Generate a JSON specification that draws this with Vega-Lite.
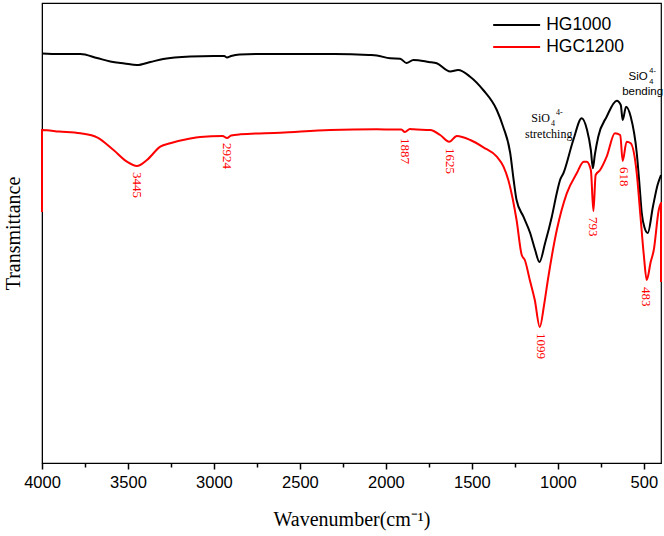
{
  "$schema": "https://vega.github.io/schema/vega-lite/v6.json",
  "width": 619,
  "height": 460,
  "autosize": "none",
  "padding": {"left": 42, "top": 3, "right": 3, "bottom": 73},
  "background": "white",
  "config": {
    "view": {"stroke": "#000", "strokeWidth": 1.2},
    "axis": {"domainColor": "#000", "tickColor": "#000", "labelColor": "#000", "titleColor": "#000", "grid": false}
  },
  "layer": [
    {
      "data": {"values": [
        {"s":"HG1000","i":0,"w":4000,"t":409.5},{"s":"HG1000","i":1,"w":3900,"t":409},{"s":"HG1000","i":2,"w":3777,"t":409},{"s":"HG1000","i":3,"w":3680,"t":405},{"s":"HG1000","i":4,"w":3603,"t":401.5},{"s":"HG1000","i":5,"w":3520,"t":399.5},{"s":"HG1000","i":6,"w":3448,"t":398},{"s":"HG1000","i":7,"w":3370,"t":401},{"s":"HG1000","i":8,"w":3295,"t":404},{"s":"HG1000","i":9,"w":3138,"t":406.5},{"s":"HG1000","i":10,"w":3000,"t":407},{"s":"HG1000","i":11,"w":2940,"t":407},{"s":"HG1000","i":12,"w":2924,"t":405.5},{"s":"HG1000","i":13,"w":2900,"t":407},{"s":"HG1000","i":14,"w":2850,"t":408.5},{"s":"HG1000","i":15,"w":2700,"t":409},{"s":"HG1000","i":16,"w":2500,"t":409},{"s":"HG1000","i":17,"w":2300,"t":409},{"s":"HG1000","i":18,"w":2100,"t":408},{"s":"HG1000","i":19,"w":2053,"t":407.5},{"s":"HG1000","i":20,"w":1975,"t":404.7},{"s":"HG1000","i":21,"w":1917,"t":404.3},{"s":"HG1000","i":22,"w":1880,"t":400},{"s":"HG1000","i":23,"w":1840,"t":403},{"s":"HG1000","i":24,"w":1750,"t":401},{"s":"HG1000","i":25,"w":1704,"t":399.7},{"s":"HG1000","i":26,"w":1626,"t":391.5},{"s":"HG1000","i":27,"w":1580,"t":393},{"s":"HG1000","i":28,"w":1510,"t":386.3},{"s":"HG1000","i":29,"w":1434,"t":373},{"s":"HG1000","i":30,"w":1355,"t":353},{"s":"HG1000","i":31,"w":1318,"t":336.3},{"s":"HG1000","i":32,"w":1277,"t":310},{"s":"HG1000","i":33,"w":1257,"t":283},{"s":"HG1000","i":34,"w":1240,"t":263},{"s":"HG1000","i":35,"w":1200,"t":246.3},{"s":"HG1000","i":36,"w":1161,"t":230},{"s":"HG1000","i":37,"w":1132,"t":213},{"s":"HG1000","i":38,"w":1107,"t":201},{"s":"HG1000","i":39,"w":1074,"t":220},{"s":"HG1000","i":40,"w":1035,"t":246.3},{"s":"HG1000","i":41,"w":1006,"t":270},{"s":"HG1000","i":42,"w":987,"t":283},{"s":"HG1000","i":43,"w":967,"t":290},{"s":"HG1000","i":44,"w":910,"t":323},{"s":"HG1000","i":45,"w":861,"t":344.7},{"s":"HG1000","i":46,"w":830,"t":333},{"s":"HG1000","i":47,"w":808,"t":313},{"s":"HG1000","i":48,"w":796,"t":294.7},{"s":"HG1000","i":49,"w":785,"t":308},{"s":"HG1000","i":50,"w":765,"t":326.3},{"s":"HG1000","i":51,"w":716,"t":346.3},{"s":"HG1000","i":52,"w":657,"t":362.3},{"s":"HG1000","i":53,"w":634,"t":358},{"s":"HG1000","i":54,"w":623,"t":343},{"s":"HG1000","i":55,"w":603,"t":356.3},{"s":"HG1000","i":56,"w":576,"t":346.3},{"s":"HG1000","i":57,"w":541,"t":310},{"s":"HG1000","i":58,"w":525,"t":278},{"s":"HG1000","i":59,"w":512,"t":250},{"s":"HG1000","i":60,"w":495,"t":235},{"s":"HG1000","i":61,"w":477,"t":230},{"s":"HG1000","i":62,"w":447,"t":256.3},{"s":"HG1000","i":63,"w":420,"t":278},{"s":"HG1000","i":64,"w":400,"t":288},
        {"s":"HGC1200","i":0,"w":4000,"t":251},{"s":"HGC1200","i":1,"w":4000,"t":333},{"s":"HGC1200","i":2,"w":3900,"t":331.5},{"s":"HGC1200","i":3,"w":3777,"t":329.7},{"s":"HGC1200","i":4,"w":3680,"t":325.7},{"s":"HGC1200","i":5,"w":3584,"t":313},{"s":"HGC1200","i":6,"w":3506,"t":301.3},{"s":"HGC1200","i":7,"w":3448,"t":297},{"s":"HGC1200","i":8,"w":3390,"t":303},{"s":"HGC1200","i":9,"w":3312,"t":316.3},{"s":"HGC1200","i":10,"w":3254,"t":319.7},{"s":"HGC1200","i":11,"w":3138,"t":324.5},{"s":"HGC1200","i":12,"w":3080,"t":326},{"s":"HGC1200","i":13,"w":2950,"t":327},{"s":"HGC1200","i":14,"w":2924,"t":325},{"s":"HGC1200","i":15,"w":2900,"t":327.5},{"s":"HGC1200","i":16,"w":2847,"t":328.7},{"s":"HGC1200","i":17,"w":2614,"t":330.3},{"s":"HGC1200","i":18,"w":2324,"t":333},{"s":"HGC1200","i":19,"w":2053,"t":333.7},{"s":"HGC1200","i":20,"w":1950,"t":333.5},{"s":"HGC1200","i":21,"w":1910,"t":333.5},{"s":"HGC1200","i":22,"w":1890,"t":331},{"s":"HGC1200","i":23,"w":1860,"t":334},{"s":"HGC1200","i":24,"w":1840,"t":333.7},{"s":"HGC1200","i":25,"w":1742,"t":333},{"s":"HGC1200","i":26,"w":1684,"t":328},{"s":"HGC1200","i":27,"w":1632,"t":321.3},{"s":"HGC1200","i":28,"w":1587,"t":327},{"s":"HGC1200","i":29,"w":1509,"t":323},{"s":"HGC1200","i":30,"w":1433,"t":315.7},{"s":"HGC1200","i":31,"w":1355,"t":306.3},{"s":"HGC1200","i":32,"w":1316,"t":296.3},{"s":"HGC1200","i":33,"w":1288,"t":283},{"s":"HGC1200","i":34,"w":1240,"t":243},{"s":"HGC1200","i":35,"w":1210,"t":208},{"s":"HGC1200","i":36,"w":1192,"t":203},{"s":"HGC1200","i":37,"w":1163,"t":183},{"s":"HGC1200","i":38,"w":1134,"t":163},{"s":"HGC1200","i":39,"w":1105,"t":136},{"s":"HGC1200","i":40,"w":1080,"t":158},{"s":"HGC1200","i":41,"w":1058,"t":183},{"s":"HGC1200","i":42,"w":1006,"t":233},{"s":"HGC1200","i":43,"w":948,"t":269.7},{"s":"HGC1200","i":44,"w":890,"t":289.7},{"s":"HGC1200","i":45,"w":850,"t":301.3},{"s":"HGC1200","i":46,"w":832,"t":301.3},{"s":"HGC1200","i":47,"w":808,"t":293},{"s":"HGC1200","i":48,"w":793,"t":252},{"s":"HGC1200","i":49,"w":780,"t":288},{"s":"HGC1200","i":50,"w":754,"t":293},{"s":"HGC1200","i":51,"w":716,"t":306.3},{"s":"HGC1200","i":52,"w":668,"t":329.7},{"s":"HGC1200","i":53,"w":637,"t":328},{"s":"HGC1200","i":54,"w":623,"t":302},{"s":"HGC1200","i":55,"w":600,"t":321.3},{"s":"HGC1200","i":56,"w":576,"t":319.7},{"s":"HGC1200","i":57,"w":541,"t":289.7},{"s":"HGC1200","i":58,"w":520,"t":248},{"s":"HGC1200","i":59,"w":500,"t":208},{"s":"HGC1200","i":60,"w":483,"t":183},{"s":"HGC1200","i":61,"w":460,"t":201},{"s":"HGC1200","i":62,"w":442,"t":213},{"s":"HGC1200","i":63,"w":413,"t":253},{"s":"HGC1200","i":64,"w":400,"t":260},{"s":"HGC1200","i":65,"w":400,"t":181}
      ]},
      "mark": {"type": "line", "strokeWidth": 2, "interpolate": "monotone"},
      "encoding": {
        "x": {"field": "w", "type": "quantitative",
              "scale": {"domain": [400, 4000], "reverse": true, "nice": false, "zero": false},
              "axis": {"values": [4000,3750,3500,3250,3000,2750,2500,2250,2000,1750,1500,1250,1000,750,500],
                       "format": "d",
                       "labelExpr": "datum.value % 500 === 0 ? datum.label : ''",
                       "tickSize": {"condition": {"test": "datum.value % 500 === 0", "value": 6}, "value": 4},
                       "tickWidth": 1.5,
                       "labelFont": "Liberation Sans", "labelFontSize": 16.5, "labelPadding": 5,
                       "title": "Wavenumber(cm⁻¹)", "titleFont": "Liberation Serif", "titleFontSize": 20,
                       "titleFontWeight": "normal", "titlePadding": 19, "labelFlush": false}},
        "y": {"field": "t", "type": "quantitative",
              "scale": {"domain": [0, 460], "nice": false, "zero": false},
              "axis": {"labels": false, "ticks": false, "title": "Transmittance",
                       "titleFont": "Liberation Serif", "titleFontSize": 20, "titleFontWeight": "normal",
                       "titlePadding": 19}},
        "color": {"field": "s", "type": "nominal",
                  "scale": {"domain": ["HG1000", "HGC1200"], "range": ["#000000", "#ff0000"]}, "legend": null},
        "order": {"field": "i", "type": "quantitative"}
      }
    },
    {
      "data": {"values": [
        {"lab":"3445","w":3445,"t":291},{"lab":"2924","w":2924,"t":320},{"lab":"1887","w":1887,"t":325},
        {"lab":"1625","w":1625,"t":315},{"lab":"1099","w":1099,"t":130},{"lab":"793","w":793,"t":246},
        {"lab":"618","w":618,"t":296},{"lab":"483","w":487,"t":176}
      ]},
      "mark": {"type": "text", "angle": 90, "align": "left", "baseline": "middle", "font": "Liberation Serif", "fontSize": 13, "color": "#ff0000"},
      "encoding": {"x": {"field": "w", "type": "quantitative"}, "y": {"field": "t", "type": "quantitative"}, "text": {"field": "lab"}}
    },
    {
      "data": {"values": [{"lab":"SiO","w":1100,"t":341},{"lab":"stretching","w":1053,"t":325}]},
      "mark": {"type": "text", "align": "center", "baseline": "alphabetic", "font": "Liberation Serif", "fontSize": 12, "color": "#000"},
      "encoding": {"x": {"field": "w", "type": "quantitative"}, "y": {"field": "t", "type": "quantitative"}, "text": {"field": "lab"}}
    },
    {
      "data": {"values": [{"lab":"4","w":1040,"t":337},{"lab":"4-","w":1010,"t":348}]},
      "mark": {"type": "text", "align": "left", "baseline": "alphabetic", "font": "Liberation Serif", "fontSize": 8, "color": "#000000"},
      "encoding": {"x": {"field": "w", "type": "quantitative"}, "y": {"field": "t", "type": "quantitative"}, "text": {"field": "lab"}}
    },
    {
      "data": {"values": [{"lab":"SiO","w":533,"t":383},{"lab":"bending","w":507,"t":368}]},
      "mark": {"type": "text", "align": "center", "baseline": "alphabetic", "font": "Liberation Sans", "fontSize": 11.5, "color": "#000"},
      "encoding": {"x": {"field": "w", "type": "quantitative"}, "y": {"field": "t", "type": "quantitative"}, "text": {"field": "lab"}}
    },
    {
      "data": {"values": [{"lab":"4","w":468,"t":379},{"lab":"4-","w":468,"t":390}]},
      "mark": {"type": "text", "align": "left", "baseline": "alphabetic", "font": "Liberation Sans", "fontSize": 7.5, "color": "#000000"},
      "encoding": {"x": {"field": "w", "type": "quantitative"}, "y": {"field": "t", "type": "quantitative"}, "text": {"field": "lab"}}
    },
    {
      "data": {"values": [{"s":"HG1000","w1":1376,"w2":1103,"t":438},{"s":"HGC1200","w1":1376,"w2":1103,"t":416}]},
      "mark": {"type": "rule", "strokeWidth": 2},
      "encoding": {"x": {"field": "w1", "type": "quantitative"}, "x2": {"field": "w2"}, "y": {"field": "t", "type": "quantitative"},
                   "color": {"field": "s", "type": "nominal", "legend": null}}
    },
    {
      "data": {"values": [{"s":"HG1000","w":1068,"t":438},{"s":"HGC1200","w":1068,"t":416}]},
      "mark": {"type": "text", "align": "left", "baseline": "middle", "font": "Liberation Sans", "fontSize": 17.5, "color": "#000"},
      "encoding": {"x": {"field": "w", "type": "quantitative"}, "y": {"field": "t", "type": "quantitative"}, "text": {"field": "s"}}
    }
  ]
}
